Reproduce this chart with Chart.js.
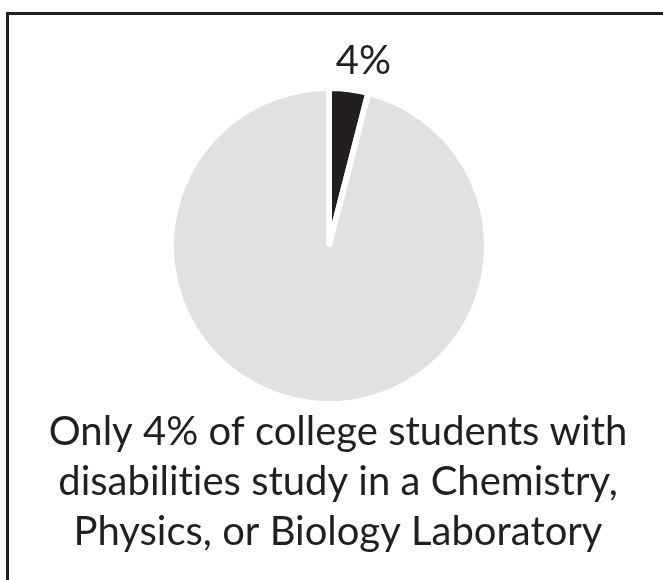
<!DOCTYPE html>
<html>
<head>
<meta charset="utf-8">
<script src="https://cdn.jsdelivr.net/npm/chart.js@4"></script>
<style>
html,body{margin:0;padding:0;background:#fff;}
#wrap{width:663px;height:580px;position:relative;}
</style>
</head>
<body>
<div id="wrap"><canvas id="c" width="663" height="580"></canvas></div>
<script>
const categories = ["Study in a Chemistry, Physics, or Biology Laboratory", "Other"];
const values = [4, 96];
const sliceLabels = ["4%", ""];
const captionLines = [
  "Only 4% of college students with",
  "disabilities study in a Chemistry,",
  "Physics, or Biology Laboratory"
];
const ink = "#231f20";

const decor = {
  id: "decor",
  beforeDraw(chart) {
    const ctx = chart.ctx;
    ctx.save();
    ctx.fillStyle = "#fff";
    ctx.fillRect(0, 0, chart.width, chart.height);
    ctx.strokeStyle = ink;
    ctx.lineWidth = 3;
    ctx.beginPath();
    ctx.moveTo(7.5, chart.height);
    ctx.lineTo(7.5, 13.5);
    ctx.lineTo(chart.width, 13.5);
    ctx.stroke();
    ctx.restore();
  },
  afterDraw(chart) {
    const ctx = chart.ctx;
    const meta = chart.getDatasetMeta(0);
    ctx.save();
    if ("textRendering" in ctx) ctx.textRendering = "optimizeSpeed";
    if ("fontVariantCaps" in ctx) ctx.fontVariantCaps = "normal";
    ctx.fillStyle = ink;
    ctx.font = "40px Lato";
    ctx.textAlign = "center";
    ctx.textBaseline = "alphabetic";
    meta.data.forEach((arc, i) => {
      const t = sliceLabels[i];
      if (!t) return;
      const mid = (arc.startAngle + arc.endAngle) / 2;
      const r = arc.outerRadius + 20;
      const x = arc.x + Math.cos(mid) * r + 12;
      const y = arc.y + Math.sin(mid) * r + 5;
      ctx.fillText(t, x, y);
    });
    const cx = 338;
    captionLines.forEach((line, i) => {
      ctx.fillText(line, cx, 445 + i * 50);
    });
    ctx.restore();
  }
};

new Chart(document.getElementById("c"), {
  type: "pie",
  data: {
    labels: categories,
    datasets: [{
      data: values,
      backgroundColor: [ink, "#e0e1e3"],
      borderColor: "#ffffff",
      borderWidth: 6,
      radius: 158
    }]
  },
  options: {
    responsive: false,
    animation: false,
    layout: { padding: { left: 170, right: 175, top: 85, bottom: 173 } },
    plugins: {
      legend: { display: false },
      tooltip: { enabled: false },
      title: { display: false }
    }
  },
  plugins: [decor]
});
</script>
</body>
</html>
